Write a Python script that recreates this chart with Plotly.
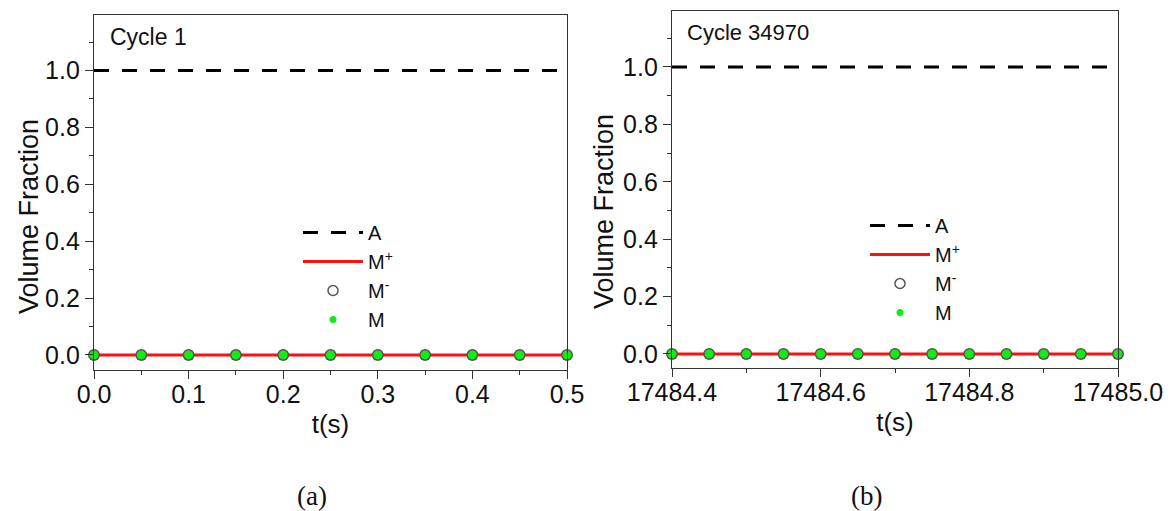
import plotly.graph_objects as go

# ---------------- data ----------------
t_cycle1 = [0.0, 0.05, 0.1, 0.15, 0.2, 0.25, 0.3, 0.35, 0.4, 0.45, 0.5]
A_cycle1 = [1.0, 1.0, 1.0, 1.0, 1.0, 1.0, 1.0, 1.0, 1.0, 1.0, 1.0]
Mplus_cycle1 = [0.0, 0.0, 0.0, 0.0, 0.0, 0.0, 0.0, 0.0, 0.0, 0.0, 0.0]
Mminus_cycle1 = [0.0, 0.0, 0.0, 0.0, 0.0, 0.0, 0.0, 0.0, 0.0, 0.0, 0.0]
M_cycle1 = [0.0, 0.0, 0.0, 0.0, 0.0, 0.0, 0.0, 0.0, 0.0, 0.0, 0.0]

t_cycle34970 = [17484.40, 17484.45, 17484.50, 17484.55, 17484.60, 17484.65, 17484.70,
                17484.75, 17484.80, 17484.85, 17484.90, 17484.95, 17485.00]
A_cycle34970 = [1.0, 1.0, 1.0, 1.0, 1.0, 1.0, 1.0, 1.0, 1.0, 1.0, 1.0, 1.0, 1.0]
Mplus_cycle34970 = [0.0, 0.0, 0.0, 0.0, 0.0, 0.0, 0.0, 0.0, 0.0, 0.0, 0.0, 0.0, 0.0]
Mminus_cycle34970 = [0.0, 0.0, 0.0, 0.0, 0.0, 0.0, 0.0, 0.0, 0.0, 0.0, 0.0, 0.0, 0.0]
M_cycle34970 = [0.0, 0.0, 0.0, 0.0, 0.0, 0.0, 0.0, 0.0, 0.0, 0.0, 0.0, 0.0, 0.0]

series_names = ["A", "M<sup>+</sup>", "M<sup>-</sup>", "M"]
panel_titles = ["Cycle 1", "Cycle 34970"]
panel_labels = ["(a)", "(b)"]
x_title = "t(s)"
y_title = "Volume Fraction"

# ---------------- style ----------------
W, H = 1175, 511
FONT = "Liberation Sans, Arial, sans-serif"
SERIF = "Liberation Serif, Times New Roman, serif"
RED = "#ff1010"
GREEN = "#13ec13"
GRAY = "#555555"
INK = "#111111"

fig = go.Figure()

panels = [
    ("x", "y", "legend", t_cycle1, A_cycle1, Mplus_cycle1, Mminus_cycle1, M_cycle1),
    ("x2", "y2", "legend2", t_cycle34970, A_cycle34970, Mplus_cycle34970, Mminus_cycle34970, M_cycle34970),
]

for xa, ya, lg, t, a, mp, mm, m in panels:
    fig.add_trace(go.Scatter(x=t, y=a, mode="lines", xaxis=xa, yaxis=ya,
                             line=dict(color="black", width=3, dash="15px,13px"),
                             showlegend=False, hoverinfo="skip"))
    fig.add_trace(go.Scatter(x=t, y=mp, mode="lines", xaxis=xa, yaxis=ya,
                             line=dict(color=RED, width=3),
                             showlegend=False, hoverinfo="skip"))
    fig.add_trace(go.Scatter(x=t, y=mm, mode="markers", xaxis=xa, yaxis=ya,
                             marker=dict(symbol="circle", size=12, color=GRAY),
                             showlegend=False, hoverinfo="skip", cliponaxis=False))
    fig.add_trace(go.Scatter(x=t, y=m, mode="markers", xaxis=xa, yaxis=ya,
                             marker=dict(symbol="circle", size=9, color=GREEN),
                             showlegend=False, hoverinfo="skip", cliponaxis=False))
    # legend entries
    fig.add_trace(go.Scatter(x=[None], y=[None], mode="lines", xaxis=xa, yaxis=ya,
                             name=series_names[0], legend=lg,
                             line=dict(color="black", width=3, dash="15px,13px")))
    fig.add_trace(go.Scatter(x=[None], y=[None], mode="lines", xaxis=xa, yaxis=ya,
                             name=series_names[1], legend=lg,
                             line=dict(color=RED, width=3)))
    fig.add_trace(go.Scatter(x=[None], y=[None], mode="markers", xaxis=xa, yaxis=ya,
                             name=series_names[2], legend=lg,
                             marker=dict(symbol="circle-open", size=10, color=GRAY,
                                         line=dict(width=1.5))))
    fig.add_trace(go.Scatter(x=[None], y=[None], mode="markers", xaxis=xa, yaxis=ya,
                             name=series_names[3], legend=lg,
                             marker=dict(symbol="circle", size=7, color=GREEN)))

axis_common = dict(
    showline=True, linecolor="#333333", linewidth=1.3, mirror=True,
    ticks="outside", ticklen=8, tickwidth=1.3, tickcolor="#333333",
    showgrid=False, zeroline=False, automargin=False,
    tickfont=dict(family=FONT, size=25, color=INK),
)

fig.update_layout(
    width=W, height=H,
    margin=dict(l=0, r=0, t=0, b=0),
    paper_bgcolor="white", plot_bgcolor="white",
    font=dict(family=FONT, color=INK),
    xaxis=dict(domain=[94 / W, 567 / W], anchor="y", range=[0, 0.5],
               dtick=0.1, tickformat=".1f", ticklabelstandoff=-6,
               minor=dict(dtick=0.05, ticks="outside", ticklen=4, tickcolor="#333333"),
               title=dict(text=x_title, font=dict(family=FONT, size=26), standoff=7),
               **axis_common),
    yaxis=dict(domain=[1 - 370 / H, 1 - 15 / H], anchor="x", range=[-0.053, 1.195],
               dtick=0.2, tickformat=".1f",
               minor=dict(dtick=0.1, ticks="outside", ticklen=4, tickcolor="#333333"),
               **axis_common),
    xaxis2=dict(domain=[672 / W, 1118 / W], anchor="y2", range=[17484.4, 17485.0],
                dtick=0.2, tickformat=".1f", ticklabelstandoff=-6,
                minor=dict(dtick=0.1, ticks="outside", ticklen=4, tickcolor="#333333"),
                title=dict(text=x_title, font=dict(family=FONT, size=26), standoff=7),
                **axis_common),
    yaxis2=dict(domain=[1 - 368 / H, 1 - 11 / H], anchor="x2", range=[-0.049, 1.195],
                dtick=0.2, tickformat=".1f",
                minor=dict(dtick=0.1, ticks="outside", ticklen=4, tickcolor="#333333"),
                **axis_common),
    legend=dict(x=298 / W, y=1 - 213 / H, xanchor="left", yanchor="top",
                bgcolor="rgba(0,0,0,0)", borderwidth=0, itemwidth=60,
                font=dict(family=FONT, size=20, color=INK), tracegroupgap=0),
    legend2=dict(x=865 / W, y=1 - 206 / H, xanchor="left", yanchor="top",
                 bgcolor="rgba(0,0,0,0)", borderwidth=0, itemwidth=60,
                 font=dict(family=FONT, size=20, color=INK), tracegroupgap=0),
    annotations=[
        dict(text=y_title, xref="paper", yref="paper", x=29 / W, y=1 - 217 / H,
             textangle=-90, xanchor="center", yanchor="middle", showarrow=False,
             font=dict(family=FONT, size=27, color=INK)),
        dict(text=y_title, xref="paper", yref="paper", x=604 / W, y=1 - 212 / H,
             textangle=-90, xanchor="center", yanchor="middle", showarrow=False,
             font=dict(family=FONT, size=27, color=INK)),
        dict(text=panel_titles[0], xref="paper", yref="paper", x=108 / W, y=1 - 37 / H,
             xanchor="left", yanchor="middle", showarrow=False,
             font=dict(family=FONT, size=23, color=INK)),
        dict(text=panel_titles[1], xref="paper", yref="paper", x=685 / W, y=1 - 33 / H,
             xanchor="left", yanchor="middle", showarrow=False,
             font=dict(family=FONT, size=22, color=INK)),
        dict(text=panel_labels[0], xref="paper", yref="paper", x=312 / W, y=1 - 496 / H,
             xanchor="center", yanchor="middle", showarrow=False,
             font=dict(family=SERIF, size=27, color=INK)),
        dict(text=panel_labels[1], xref="paper", yref="paper", x=866 / W, y=1 - 496 / H,
             xanchor="center", yanchor="middle", showarrow=False,
             font=dict(family=SERIF, size=27, color=INK)),
    ],
)

fig.write_html("out.html")
